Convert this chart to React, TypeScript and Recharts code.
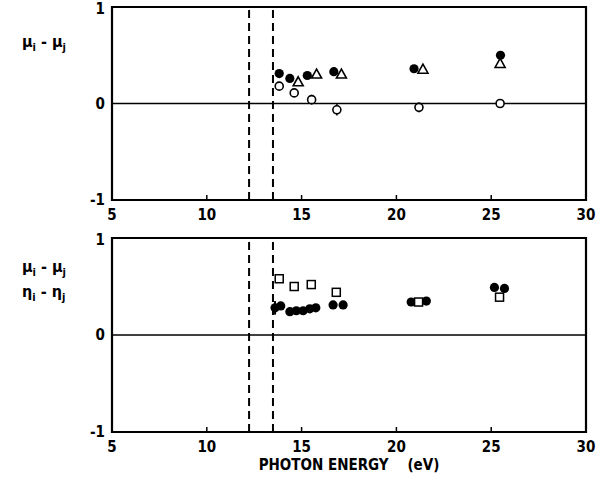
import React from "react";
import {
  ErrorBar,
  ReferenceArea,
  ReferenceLine,
  Scatter,
  ScatterChart,
  XAxis,
  YAxis,
} from "recharts";

// photon energies (eV) and differences for the upper panel
const upperFilledX = [13.82, 14.38, 15.3, 16.7, 20.93, 25.49];
const upperFilledY = [0.31, 0.26, 0.29, 0.33, 0.36, 0.5];
const upperTriangleX = [14.82, 15.79, 17.1, 21.4, 25.47];
const upperTriangleY = [0.22, 0.3, 0.3, 0.35, 0.41];
const upperOpenX = [13.82, 14.61, 15.53, 16.86, 21.19, 25.47];
const upperOpenY = [0.18, 0.11, 0.04, -0.065, -0.04, 0.0];
const upperOpenErr = [0, 0, 0.05, 0.06, 0.05, 0];

// lower panel
const lowerFilledX = [13.6, 13.9, 14.38, 14.72, 15.08, 15.43, 15.75, 16.66, 17.19, 20.78, 21.58, 25.17, 25.7];
const lowerFilledY = [0.28, 0.3, 0.24, 0.25, 0.25, 0.27, 0.28, 0.31, 0.31, 0.34, 0.35, 0.49, 0.48];
const lowerFilledErr = [0.07, 0, 0, 0, 0, 0, 0, 0, 0, 0, 0, 0, 0];
const lowerSquareX = [13.82, 14.61, 15.51, 16.83, 21.17, 25.44];
const lowerSquareY = [0.58, 0.5, 0.52, 0.44, 0.34, 0.39];

const xTicks = [5, 10, 15, 20, 25, 30];
const yTicks = [-1, 0, 1];
const thresholds = [12.23, 13.49];

const pts = (xs: number[], ys: number[], errs?: number[]) =>
  xs.map((x, i) => ({ x, y: ys[i], err: errs ? errs[i] : 0 }));

const FONT = "'Liberation Sans Narrow', 'DejaVu Sans Condensed', 'DejaVu Sans', sans-serif";

const filledDot = (p: any) => <circle cx={p.cx} cy={p.cy} r={4.6} fill="#000" />;
const openDot = (p: any) => (
  <circle cx={p.cx} cy={p.cy} r={4} fill="#fff" stroke="#000" strokeWidth={1.6} />
);
const openTriangle = (p: any) => (
  <path
    d={`M${p.cx},${p.cy - 5.5} L${p.cx + 5},${p.cy + 3.5} L${p.cx - 5},${p.cy + 3.5} Z`}
    fill="#fff"
    stroke="#000"
    strokeWidth={1.6}
  />
);
const openSquare = (p: any) => (
  <rect x={p.cx - 4} y={p.cy - 4} width={8} height={8} fill="#fff" stroke="#000" strokeWidth={1.5} />
);

function XTick({ x, y, payload }: any) {
  return (
    <g>
      <line x1={x} y1={y - 7} x2={x} y2={y - 12} stroke="#000" strokeWidth={1.5} />
      <text
        x={x}
        y={y + 13}
        textAnchor="middle"
        fontFamily={FONT}
        fontWeight="bold"
        fontSize={15}
        fill="#000"
      >
        {payload.value}
      </text>
    </g>
  );
}

function Frame({ children, xAxisLabel }: { children: React.ReactNode; xAxisLabel?: string }) {
  return (
    <>
      <XAxis
        type="number"
        dataKey="x"
        domain={[5, 30]}
        ticks={xTicks}
        axisLine={false}
        tickLine={false}
        tickSize={0}
        tickMargin={7}
        tick={<XTick />}
        height={xAxisLabel ? 55 : 30}
        label={
          xAxisLabel
            ? {
                value: xAxisLabel,
                position: "insideBottom",
                offset: 17,
                style: { fontFamily: FONT, fontWeight: "bold", fontSize: 15, fill: "#000", whiteSpace: "pre" },
              }
            : undefined
        }
      />
      <YAxis
        type="number"
        dataKey="y"
        domain={[-1, 1]}
        ticks={yTicks}
        axisLine={false}
        tickLine={false}
        tickSize={0}
        tickMargin={7}
        width={112}
        tick={{ fontFamily: FONT, fontWeight: "bold", fontSize: 15, fill: "#000" }}
      />
      <ReferenceArea x1={5} x2={30} y1={-1} y2={1} fill="none" stroke="#000" strokeWidth={2.2} />
      <ReferenceLine y={0} stroke="#000" strokeWidth={1.5} />
      {thresholds.map((t) => (
        <ReferenceLine key={t} x={t} stroke="#000" strokeWidth={2} strokeDasharray="8 5" />
      ))}
      {children}
    </>
  );
}

const labelStyle: React.CSSProperties = {
  position: "absolute",
  left: 22,
  fontFamily: FONT,
  fontWeight: "bold",
  fontSize: 16,
  lineHeight: "18px",
  whiteSpace: "pre",
};
const subStyle: React.CSSProperties = { fontSize: 11, verticalAlign: "-4px", lineHeight: 0 };

function Diff({ sym, top }: { sym: string; top: number }) {
  return (
    <div style={{ ...labelStyle, top }}>
      {sym}
      <span style={subStyle}>i</span> - {sym}
      <span style={subStyle}>j</span>
    </div>
  );
}

export default function App() {
  return (
    <div
      style={{
        position: "absolute",
        left: 0,
        top: 0,
        width: 606,
        height: 486,
        background: "#fff",
        overflow: "hidden",
      }}
    >
      <div style={{ position: "absolute", left: 0, top: 0 }}>
        <ScatterChart width={606} height={230} margin={{ top: 7, right: 20, bottom: 0, left: 0 }}>
          {Frame({
            children: [
              <Scatter key="t" data={pts(upperTriangleX, upperTriangleY)} shape={openTriangle} isAnimationActive={false} />,
              <Scatter key="f" data={pts(upperFilledX, upperFilledY)} shape={filledDot} isAnimationActive={false} />,
              <Scatter key="o" data={pts(upperOpenX, upperOpenY, upperOpenErr)} shape={openDot} isAnimationActive={false}>
                <ErrorBar dataKey="err" direction="y" width={0} stroke="#000" strokeWidth={1.5} />
              </Scatter>,
            ],
          })}
        </ScatterChart>
      </div>
      <div style={{ position: "absolute", left: 0, top: 231 }}>
        <ScatterChart width={606} height={256} margin={{ top: 7, right: 20, bottom: 0, left: 0 }}>
          {Frame({
            xAxisLabel: "PHOTON ENERGY\u00a0\u00a0\u00a0\u00a0(eV)",
            children: [
              <Scatter key="f" data={pts(lowerFilledX, lowerFilledY, lowerFilledErr)} shape={filledDot} isAnimationActive={false}>
                <ErrorBar dataKey="err" direction="y" width={0} stroke="#000" strokeWidth={2} />
              </Scatter>,
              <Scatter key="s" data={pts(lowerSquareX, lowerSquareY)} shape={openSquare} isAnimationActive={false} />,
            ],
          })}
        </ScatterChart>
      </div>
      <Diff sym="μ" top={33} />
      <Diff sym="μ" top={258} />
      <Diff sym="η" top={283} />
    </div>
  );
}
